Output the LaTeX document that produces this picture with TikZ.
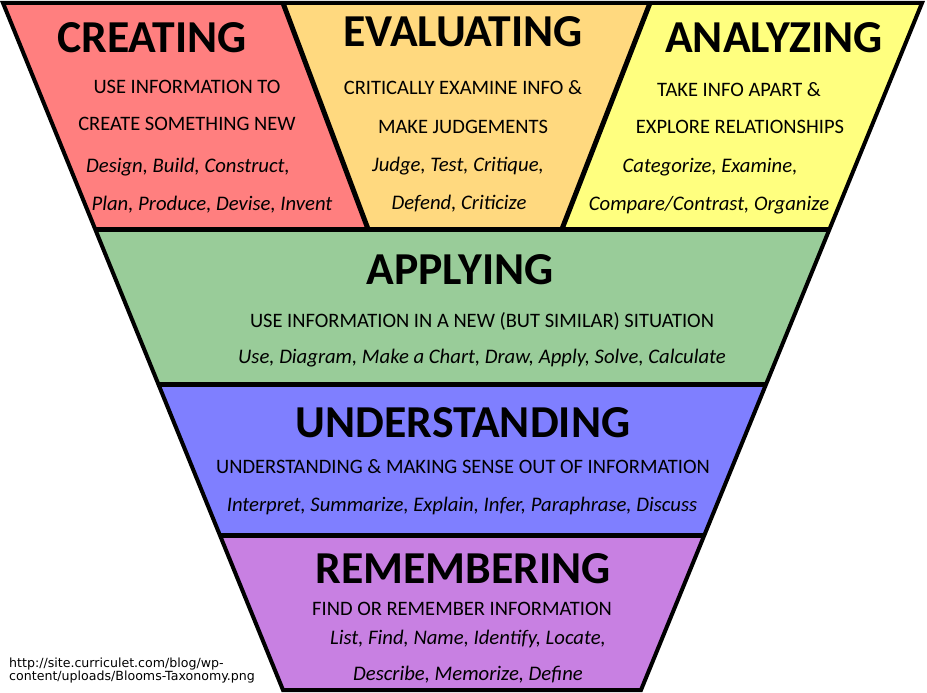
\documentclass[tikz,border=0pt]{standalone}
\usepackage{fontspec}
\setmainfont{Carlito}
\newfontfamily\capfont{DejaVu Sans}
\definecolor{cre}{HTML}{FF7F7F}
\definecolor{eva}{HTML}{FFD97F}
\definecolor{ana}{HTML}{FFFF7F}
\definecolor{app}{HTML}{99CC99}
\definecolor{und}{HTML}{7F7FFF}
\definecolor{rem}{HTML}{C880E2}
\tikzset{
  ttl/.style={font=\bfseries\fontsize{45.7}{46}\selectfont, anchor=base, inner sep=0pt},
  sub/.style={font=\fontsize{20.5}{21}\selectfont, anchor=base, inner sep=0pt},
  verbs/.style={font=\itshape\fontsize{20.7}{21}\selectfont, anchor=base, inner sep=0pt},
  capt/.style={font=\capfont\fontsize{12.6}{13}\selectfont, anchor=base west, inner sep=0pt, align=left},
  edge/.style={line width=4pt, line join=miter},
  sep/.style={line width=5pt}
}
\begin{document}
\begin{tikzpicture}[x=1pt,y=-1pt]
\useasboundingbox (0,0) rectangle (927,693);
% corner coordinates
\coordinate (TL) at (3,3);
\coordinate (TR) at (922,3);
\coordinate (BL) at (283,690);
\coordinate (BR) at (641,690);
\coordinate (L1) at (95.1,229);
\coordinate (R1) at (829.6,229);
\coordinate (L2) at (158.3,384);
\coordinate (R2) at (766.2,384);
\coordinate (L3) at (219.8,535);
\coordinate (R3) at (704.4,535);
\coordinate (D1t) at (283,3);
\coordinate (D1b) at (368,229);
\coordinate (D2t) at (650,3);
\coordinate (D2b) at (562,229);
% fills
\fill[cre] (TL) -- (D1t) -- (D1b) -- (L1) -- cycle;
\fill[eva] (D1t) -- (D2t) -- (D2b) -- (D1b) -- cycle;
\fill[ana] (D2t) -- (TR) -- (R1) -- (D2b) -- cycle;
\fill[app] (L1) -- (R1) -- (R2) -- (L2) -- cycle;
\fill[und] (L2) -- (R2) -- (R3) -- (L3) -- cycle;
\fill[rem] (L3) -- (R3) -- (BR) -- (BL) -- cycle;
% lines
\draw[sep] (L1) -- (R1);
\draw[sep] (L2) -- (R2);
\draw[sep] (L3) -- (R3);
\draw[sep] (D1t) -- (D1b);
\draw[sep] (D2t) -- (D2b);
\draw[edge] (TL) -- (TR) -- (BR) -- (BL) -- cycle;
% CREATING
\node[ttl] (creT) at (152,53) {CREATING};
\node[sub] (creA) at (187,93) {USE INFORMATION TO};
\node[sub] (creB) at (187,131) {CREATE SOMETHING NEW};
\node[verbs] (creC) at (188,172) {Design, Build, Construct,};
\node[verbs] (creD) at (212,210) {Plan, Produce, Devise, Invent};
% EVALUATING
\node[ttl] (evaT) at (463,47) {EVALUATING};
\node[sub] (evaA) at (463,95) {CRITICALLY EXAMINE INFO \&};
\node[sub] (evaB) at (463,133) {MAKE JUDGEMENTS};
\node[verbs] (evaC) at (458,171) {Judge, Test, Critique,};
\node[verbs] (evaD) at (459,209) {Defend, Criticize};
% ANALYZING
\node[ttl] (anaT) at (774,53) {ANALYZING};
\node[sub] (anaA) at (739,96) {TAKE INFO APART \&};
\node[sub] (anaB) at (740,133) {EXPLORE RELATIONSHIPS};
\node[verbs] (anaC) at (710,172) {Categorize, Examine,};
\node[verbs] (anaD) at (709,210) {Compare/Contrast, Organize};
% APPLYING
\node[ttl] (appT) at (460,284) {APPLYING};
\node[sub] (appA) at (482,327) {USE INFORMATION IN A NEW (BUT SIMILAR) SITUATION};
\node[verbs] (appB) at (482,363) {Use, Diagram, Make a Chart, Draw, Apply, Solve, Calculate};
% UNDERSTANDING
\node[ttl] (undT) at (463,437) {UNDERSTANDING};
\node[sub] (undA) at (463,473) {UNDERSTANDING \& MAKING SENSE OUT OF INFORMATION};
\node[verbs] (undB) at (462,511) {Interpret, Summarize, Explain, Infer, Paraphrase, Discuss};
% REMEMBERING
\node[ttl] (remT) at (463,583) {REMEMBERING};
\node[sub] (remA) at (462,615) {FIND OR REMEMBER INFORMATION};
\node[verbs] (remB) at (468,644) {List, Find, Name, Identify, Locate,};
\node[verbs] (remC) at (468,680) {Describe, Memorize, Define};
% caption
\node[capt] (cap1) at (9,667) {http://site.curriculet.com/blog/wp-};
\node[capt] (cap2) at (9,680) {content/uploads/Blooms-Taxonomy.png};
\end{tikzpicture}
\end{document}
